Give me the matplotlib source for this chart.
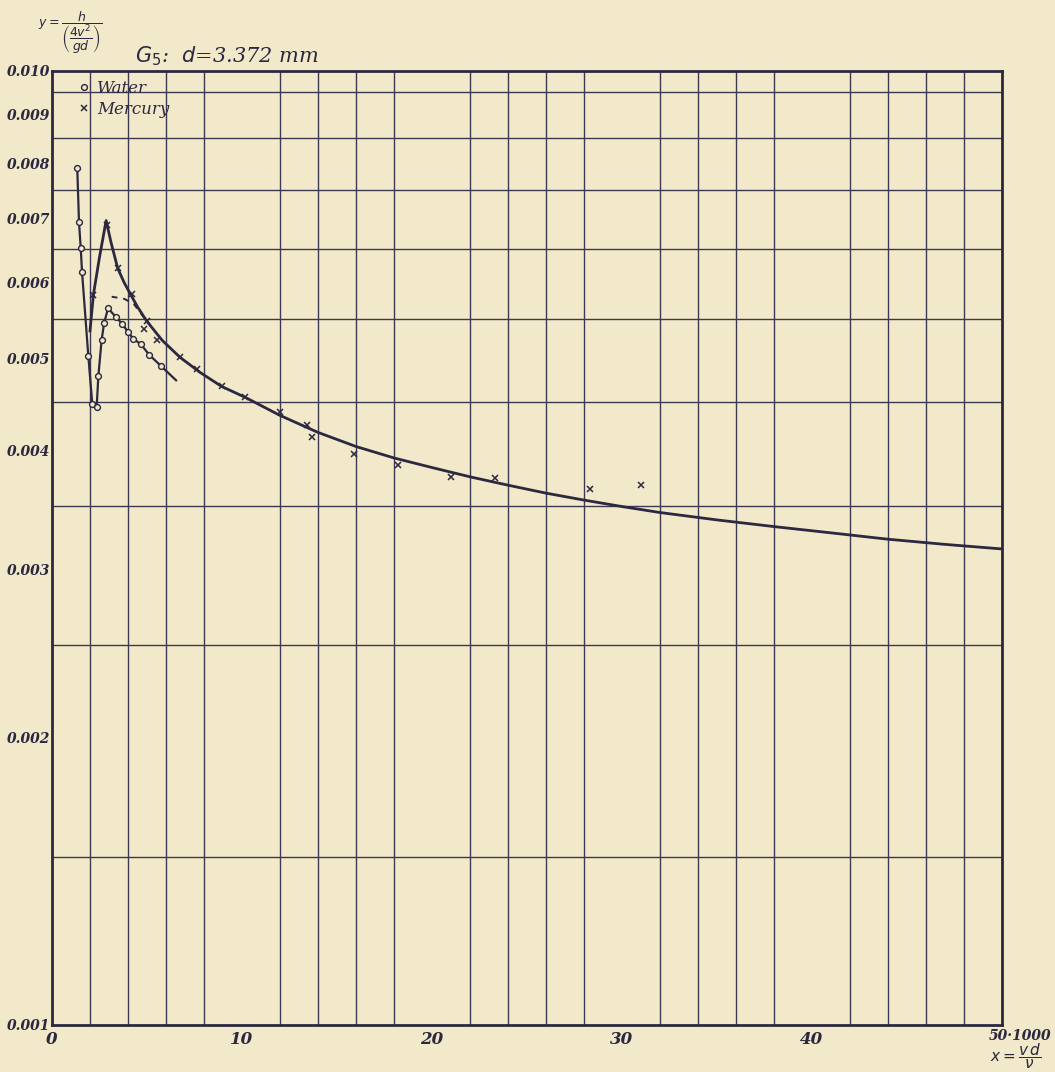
import matplotlib
matplotlib.use("Agg")
import matplotlib.pyplot as plt
from matplotlib.ticker import FixedLocator, NullFormatter

# water measurements (x in units of 1000)
water_x = [1.33, 1.42, 1.51, 1.58, 1.91, 2.12, 2.35, 2.44, 2.61, 2.74, 2.95,
           3.37, 3.70, 4.02, 4.28, 4.68, 5.12, 5.72]
water_y = [0.00791, 0.00695, 0.00653, 0.00616, 0.00503, 0.00448, 0.00444, 0.00479,
           0.00522, 0.00544, 0.00564, 0.00552, 0.00543, 0.00532, 0.00524, 0.00517,
           0.00504, 0.00491]

# line drawn through the water points, runs a bit past the last one
water_line_x = water_x + [6.53]
water_line_y = water_y + [0.00474]

# mercury measurements
mercury_x = [2.18, 2.88, 3.46, 4.19, 4.84, 5.00, 5.54, 6.74, 7.61, 8.93, 10.16,
             12.0, 13.44, 13.67, 15.91, 18.23, 21.0, 23.32, 28.3, 31.0]
mercury_y = [0.00583, 0.00690, 0.00621, 0.00584, 0.00537, 0.00547, 0.00523, 0.00501,
             0.00487, 0.00467, 0.00455, 0.00439, 0.00426, 0.00413, 0.00397, 0.00386,
             0.00375, 0.00374, 0.00365, 0.00368]

# main curve
curve_x = [2.0, 2.18, 2.5, 2.85, 3.1, 3.46, 3.8, 4.14, 4.5, 4.98, 5.8, 6.74, 7.8,
           8.93, 10.16, 12.0, 14.0, 16.0, 18.0, 20.0, 22.0, 24.0, 26.0, 28.0, 30.0,
           32.0, 35.0, 38.0, 41.0, 44.0, 47.0, 50.0]
curve_y = [0.00534, 0.00583, 0.00638, 0.00697, 0.00662, 0.00621, 0.00600, 0.00583,
           0.00566, 0.00547, 0.00522, 0.00501, 0.00483, 0.00467, 0.00455, 0.004355,
           0.00418, 0.00404, 0.00393, 0.00384, 0.003755, 0.00368, 0.00361, 0.00355,
           0.003495, 0.003445, 0.003384, 0.00333, 0.00328, 0.00323, 0.00319, 0.003155]

# dashed piece above the water curve
dash_x = [3.14, 3.8, 4.3, 4.8, 5.0]
dash_y = [0.00580, 0.00577, 0.00570, 0.00553, 0.00547]

# tick values
ytick_vals = [0.001, 0.002, 0.003, 0.004, 0.005, 0.006, 0.007, 0.008, 0.009, 0.010]
ytick_text = ["0.001", "0.002", "0.003", "0.004", "0.005", "0.006", "0.007", "0.008",
              "0.009", "0.010"]
ygrid_vals = [0.001, 0.0015, 0.002, 0.0025, 0.003, 0.0035, 0.004, 0.0045, 0.005, 0.0055,
              0.006, 0.0065, 0.007, 0.0075, 0.008, 0.0085, 0.009, 0.0095, 0.010]
xtick_vals = [0, 10, 20, 30, 40]
xtick_text = ["0", "10", "20", "30", "40"]
xgrid_vals = list(range(0, 51, 2))

paper = "#f1e9c9"
ink = "#2b2840"
grid_ink = "#3d3852"

fig = plt.figure(figsize=(10.55, 10.72), dpi=100, facecolor=paper)
ax = fig.add_axes([52 / 1055, 47 / 1072, 950 / 1055, 954 / 1072])
ax.set_facecolor(paper)

ax.set_yscale("log")
ax.set_xlim(0, 50)
ax.set_ylim(0.001, 0.010)

# graph paper grid
ax.yaxis.set_major_locator(FixedLocator(ytick_vals))
ax.yaxis.set_minor_locator(FixedLocator(ygrid_vals))
ax.yaxis.set_minor_formatter(NullFormatter())
ax.set_yticklabels(ytick_text)
ax.xaxis.set_major_locator(FixedLocator(xtick_vals))
ax.xaxis.set_minor_locator(FixedLocator(xgrid_vals))
ax.set_xticklabels(xtick_text)
ax.grid(True, which="minor", color=grid_ink, linewidth=1.0)
ax.grid(False, which="major")
ax.tick_params(which="both", length=0)
ax.tick_params(axis="y", pad=1)
ax.tick_params(axis="x", pad=4)
for lab in ax.get_yticklabels() + ax.get_xticklabels():
    lab.set_family("DejaVu Serif")
    lab.set_style("italic")
    lab.set_weight("bold")
    lab.set_fontsize(10)
    lab.set_color(ink)
for lab in ax.get_xticklabels():
    lab.set_fontsize(12)

for side in ax.spines.values():
    side.set_linewidth(2.0)
    side.set_color(ink)

# curves
ax.plot(curve_x, curve_y, color=ink, linewidth=2.0, zorder=3)
ax.plot(water_line_x, water_line_y, color=ink, linewidth=1.6, zorder=3)
ax.plot(dash_x, dash_y, color=ink, linewidth=1.4, linestyle=(0, (3, 3)), zorder=3)

# data points
ax.plot(water_x, water_y, linestyle="none", marker="o", markersize=4.2,
        markerfacecolor=paper, markeredgecolor=ink, markeredgewidth=1.0,
        label="Water", zorder=4)
ax.plot(mercury_x, mercury_y, linestyle="none", marker="x", markersize=5,
        color=ink, markeredgewidth=1.1, label="Mercury", zorder=4)

leg = ax.legend(loc="upper left", bbox_to_anchor=(0.014, 1.003), frameon=False,
                handlelength=0.8, handletextpad=0.4, labelspacing=0.25, borderpad=0.2,
                prop={"family": "DejaVu Serif", "style": "italic", "size": 12})
for t in leg.get_texts():
    t.set_color(ink)

# right hand x label
fig.text(989 / 1055, 1 - 1029 / 1072, "50\u00b71000", ha="left", va="top",
         fontsize=10, family="DejaVu Serif", style="italic", weight="bold", color=ink)
fig.text(1016 / 1055, 1 - 1056 / 1072, r"$x=\dfrac{v\,d}{\nu}$", ha="center",
         va="center", fontsize=11, color=ink)

# y label and title
fig.text(70 / 1055, 1 - 33 / 1072, r"$y=\dfrac{h}{\left(\dfrac{4v^2}{gd}\right)}$",
         ha="center", va="center", fontsize=9, color=ink)
fig.text(135 / 1055, 1 - 56 / 1072, r"$G_5$:  $d$=3.372 mm", ha="left", va="center",
         fontsize=15, family="DejaVu Serif", style="italic", color=ink)

fig.savefig("out.png", dpi=100, facecolor=paper)
